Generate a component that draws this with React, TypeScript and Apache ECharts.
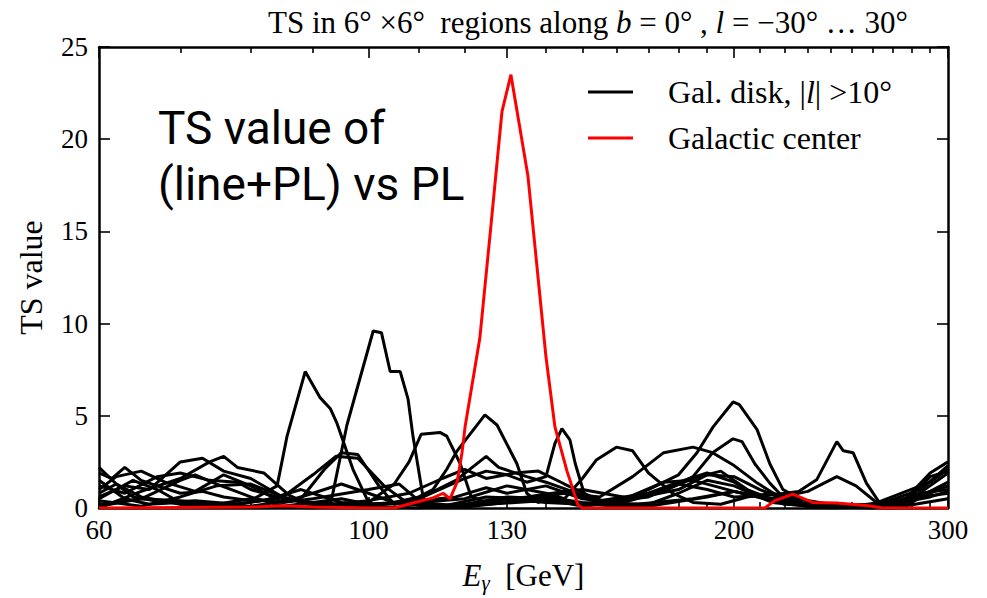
import React, { useEffect, useRef } from "react";
import * as echarts from "echarts";

const xMajorTicks = [60, 100, 130, 200, 300];
const xMinorTicks = [70, 80, 90, 110, 120, 140, 150, 160, 170, 180, 190, 210, 220, 230, 240, 250, 260, 270, 280, 290];

const diskName = "Gal. disk, |l| >10°";
const gcName = "Galactic center";

const galacticCenter: [number, number][] = [
  [60, 0], [80, 0.05], [85, 0.12], [90, 0.05], [100, 0], [105, 0], [110, 0.35], [113, 0.55], [115.2, 0.8], [116.7, 0.5],
  [118.3, 1.4], [119.4, 3], [120.1, 4.4], [123.5, 9.2], [126, 15], [128.8, 21.5], [131, 23.5], [135.3, 18], [140, 8.2],
  [142.4, 4.4], [145.7, 2], [148.8, 0.15], [150, 0], [212, 0], [216, 0.4], [223.6, 0.75], [232, 0.3], [243, 0.27],
  [258, 0.12], [265, 0], [300, 0],
];

const diskA: [number, number][] = [
  [60, 0.8], [62, 1.3], [65, 0.6], [70, 0.2], [75, 0.1], [80, 0.05], [85, 0.1], [90, 0], [93, 0.1], [96, 4.5], [100.9, 9.6],
  [102.5, 9.5], [104.2, 7.4], [106.2, 7.4], [107.8, 5.9], [108.8, 3.9], [110.9, 0.6], [112, 0.1], [120, 0.05], [130, 0.3],
  [140, 0.6], [150, 0.3], [170, 0.2], [180, 0.8], [190, 1.5], [200, 1.2], [215, 0.3], [230, 0.1], [260, 0], [280, 0.3],
  [290, 0.9], [300, 1.4],
];
const diskB: [number, number][] = [
  [60, 1.9], [61.5, 1.6], [63, 2.2], [65, 1.5], [67, 1.2], [70, 0.8], [73, 0.9], [76, 0.6], [80, 0.4], [84.1, 1.2],
  [85.7, 3.9], [88.7, 7.4], [91.2, 6.0], [93, 5.4], [94.2, 4.6], [97.1, 2.1], [99.7, 0.5], [101, 0.1], [110, 0], [125, 0.2],
  [140, 0.4], [160, 0.1], [185, 0.5], [200, 0.9], [220, 0.3], [250, 0.1], [280, 0.5], [300, 1.9],
];
const diskC: [number, number][] = [
  [60, 0.2], [65, 0.5], [70, 1.5], [72, 1.8], [75, 1.3], [80, 0.6], [85, 0.1], [90, 0.3], [95, 0.5], [100, 0.2], [105, 0.3],
  [110, 0.6], [113, 1.0], [116, 2.1], [118.3, 3.1], [124.7, 5.05], [127.6, 4.5], [132.5, 2.4], [135, 0.8], [138, 0.3],
  [145, 0.9], [150, 1.0], [165, 0.5], [180, 1.0], [190, 1.8], [200, 1.7], [210, 1.0], [225, 0.2], [240, 0.1], [260, 0],
  [285, 0.6], [300, 0.8],
];
const diskD: [number, number][] = [
  [60, 1.2], [63, 0.8], [67, 1.7], [70, 1.9], [74, 1.5], [78, 1.4], [80, 1.0], [85, 0.5], [90, 0.3], [95, 0.2], [100, 0.1],
  [110, 0.5], [120, 1.6], [125, 2.0], [130, 1.8], [135, 1.4], [140, 1.7], [142.4, 3.5], [144.3, 4.3], [146.5, 3.7],
  [148, 2.4], [150.5, 0.8], [155, 0.2], [170, 0.1], [190, 0.6], [200, 0.9], [215, 0.4], [230, 0.1], [260, 0.2], [290, 1.4],
  [300, 2.1],
];
const diskE: [number, number][] = [
  [60, 0.4], [65, 0.1], [70, 0.6], [75, 1.2], [80, 1.3], [85, 0.6], [90, 0.1], [100, 0.2], [110, 0.3], [120, 0.5], [130, 1.2],
  [140, 0.8], [145, 0.5], [150, 1.6], [154, 2.6], [160, 3.3], [165, 3.1], [170, 1.9], [174, 1.35], [178, 0.8], [185, 0.3],
  [195, 0.2], [205, 0.6], [215, 0.8], [225, 0.5], [240, 0.2], [260, 0], [285, 0.8], [300, 1.0],
];
const diskF: [number, number][] = [
  [60, 0.6], [63, 1.2], [66, 1.0], [70, 2.5], [73, 2.7], [76, 2.0], [80, 1.6], [85, 0.6], [90, 0.2], [95, 0.05], [100, 0.3],
  [105, 1.3], [108, 2.5], [110.5, 4.0], [114.5, 4.1], [116, 3.9], [119, 2.4], [121.5, 0.6], [125, 0.3], [135, 0.6],
  [145, 0.9], [155, 0.3], [170, 0.6], [185, 1.6], [195, 2.0], [205, 1.0], [220, 0.2], [240, 0.1], [270, 0], [300, 0.5],
];
const diskG: [number, number][] = [
  [60, 1.5], [63, 0.5], [66, 0.2], [70, 0.3], [75, 0.2], [80, 0.5], [85, 0.3], [90, 0.8], [95, 1.3], [100, 0.8], [105, 0.3],
  [112, 0.1], [120, 0.2], [130, 0.6], [140, 0.5], [150, 0.1], [160, 0.3], [170, 1.0], [180, 1.8], [186.4, 3.0], [192.2, 4.4],
  [199.6, 5.75], [202, 5.6], [208.9, 4.25], [214, 2.4], [219.4, 1.0], [225, 0.6], [232, 0.3], [245, 0.1], [270, 0.2],
  [290, 0.6], [300, 0.9],
];
const diskH: [number, number][] = [
  [60, 0.1], [65, 0.5], [70, 0.4], [75, 0.2], [80, 0.1], [88, 0.5], [92, 2.1], [95, 3.0], [98, 2.9], [102, 1.2], [105, 0.2],
  [110, 0.5], [118, 1.5], [125, 2.8], [128, 2.2], [135, 1.7], [140, 1.4], [150, 0.7], [160, 0.2], [175, 0.9], [185, 1.7],
  [192, 3.0], [199.6, 3.75], [203, 3.6], [208, 2.4], [214, 1.35], [219.4, 0.6], [230, 0.2], [250, 0.1], [280, 0.4],
  [300, 1.2],
];
const diskI: [number, number][] = [
  [60, 2.2], [62, 1.3], [64, 0.6], [68, 0.3], [72, 0.4], [78, 0.2], [85, 0.6], [90, 1.8], [94, 2.8], [98, 2.7], [103, 1.2],
  [108, 0.2], [115, 0.1], [125, 0.6], [135, 0.5], [145, 0.8], [155, 0.6], [165, 1.7], [175, 3.0], [185, 3.3], [192, 3.0],
  [200, 2.3], [209, 1.35], [219, 0.5], [230, 0.1], [260, 0.1], [285, 1.0], [300, 2.3],
];
const diskJ: [number, number][] = [
  [60, 0.5], [64, 1.5], [67, 1.0], [70, 0.3], [75, 0.1], [82, 0.4], [88, 1.0], [95, 0.3], [100, 0.2], [110, 0.3], [120, 0.1],
  [130, 0.5], [140, 0.3], [150, 0.2], [165, 0.5], [180, 1.3], [190, 1.0], [200, 0.6], [215, 0.7], [226, 0.9], [234, 1.55],
  [243, 3.6], [246, 3.1], [250.6, 3.0], [257, 1.35], [264, 0.2], [275, 0.3], [290, 1.9], [300, 2.5],
];
const diskK: [number, number][] = [
  [60, 1.0], [62, 1.7], [65, 2.0], [68, 1.4], [72, 0.9], [76, 1.8], [80, 1.2], [85, 0.3], [90, 0.5], [100, 1.0], [106, 1.3],
  [110, 0.4], [118, 0.6], [125, 1.1], [130, 0.8], [140, 1.2], [150, 0.5], [160, 0.3], [175, 1.4], [185, 1.5], [200, 0.9],
  [215, 0.5], [230, 0.9], [243, 1.7], [252, 1.2], [262, 0.3], [275, 0.1], [290, 1.7], [300, 2.0],
];
const diskL: [number, number][] = [
  [60, 0], [65, 0.9], [70, 1.6], [74, 2.5], [76, 2.8], [78, 2.2], [82, 1.9], [86, 0.7], [90, 0.1], [100, 0.4], [108, 0.8],
  [115, 1.6], [120, 2.1], [125, 1.6], [132, 1.9], [138, 2.0], [145, 1.3], [155, 0.4], [170, 0.8], [180, 1.4], [190, 1.9],
  [200, 1.4], [210, 0.6], [225, 0.2], [240, 0], [270, 0.1], [290, 0.9], [300, 1.2],
];

const diskCurves = [diskA, diskB, diskC, diskD, diskE, diskF, diskG, diskH, diskI, diskJ, diskK, diskL];

const SERIF = "'Liberation Serif', 'DejaVu Serif', serif";
const SANS = "Roboto, 'Open Sans', sans-serif";

export default function App() {
  const ref = useRef<HTMLDivElement>(null);
  useEffect(() => {
    const chart = echarts.init(ref.current!, null, { renderer: "svg" });
    const axisLine = { show: true, lineStyle: { color: "#000", width: 2.5 } };
    const hiddenLabel = { show: false };
    const xBase = { type: "log" as const, logBase: 10, min: 60, max: 300, splitLine: { show: false }, minorTick: { show: false } };
    const series: any[] = diskCurves.map((d) => ({
      type: "line",
      name: diskName,
      data: d,
      xAxisIndex: 0,
      yAxisIndex: 0,
      symbol: "none",
      showSymbol: false,
      lineStyle: { color: "#000", width: 3 },
      itemStyle: { color: "#000" },
      clip: true,
    }));
    series.push({
      type: "line",
      name: gcName,
      data: galacticCenter,
      xAxisIndex: 0,
      yAxisIndex: 0,
      symbol: "none",
      showSymbol: false,
      lineStyle: { color: "#ff0000", width: 3 },
      itemStyle: { color: "#ff0000" },
      z: 5,
      clip: true,
    });
    chart.setOption({
      animation: false,
      backgroundColor: "#fff",
      grid: { left: 99, right: 39, top: 47, bottom: 86, containLabel: false },
      title: {
        text: "TS in 6° ×6°  regions along {i|b} = 0° , {i|l} = −30° … 30°",
        left: 583,
        top: 2,
        textAlign: "center",
        textStyle: {
          fontFamily: SERIF,
          fontSize: 31,
          fontWeight: "normal",
          color: "#000",
          rich: { i: { fontFamily: SERIF, fontSize: 31, fontStyle: "italic", color: "#000" } },
        },
      },
      legend: {
        orient: "vertical",
        left: 583,
        top: 71,
        itemWidth: 45,
        itemHeight: 3,
        itemGap: 14,
        icon: "rect",
        selectedMode: false,
        data: [{ name: diskName }, { name: gcName }],
        formatter: (n: string) => (n === diskName ? "Gal. disk, |{i|l}| >10°" : "Galactic center"),
        textStyle: {
          fontFamily: SERIF,
          fontSize: 32,
          lineHeight: 32,
          color: "#000",
          padding: [0, 0, 0, 30],
          rich: { i: { fontFamily: SERIF, fontSize: 32, lineHeight: 32, fontStyle: "italic", color: "#000" } },
        },
      },
      graphic: [
        {
          type: "text",
          left: 158,
          top: 100,
          style: {
            text: "TS value of\n(line+PL) vs PL",
            fontFamily: SANS,
            fontSize: 46,
            lineHeight: 56,
            fill: "#000",
          },
          z: 10,
        },
      ],
      xAxis: [
        {
          ...xBase,
          position: "bottom",
          axisLine,
          axisTick: { show: true, inside: true, length: 11, customValues: xMajorTicks, lineStyle: { color: "#000", width: 1.6 } },
          axisLabel: {
            show: true,
            customValues: xMajorTicks,
            formatter: (v: number) => String(Math.round(v)),
            fontFamily: SERIF,
            fontSize: 27,
            color: "#000",
            margin: 8,
          },
          name: "{e|E}{g|γ}  [GeV]",
          nameLocation: "middle",
          nameGap: 50,
          nameTextStyle: {
            fontFamily: SERIF,
            fontSize: 31,
            color: "#000",
            rich: {
              e: { fontFamily: SERIF, fontSize: 31, fontStyle: "italic", color: "#000" },
              g: { fontFamily: SERIF, fontSize: 21, fontStyle: "italic", color: "#000", padding: [14, 0, 0, 0] },
            },
          },
        },
        {
          ...xBase,
          position: "bottom",
          axisLine: { show: false },
          axisTick: { show: true, inside: true, length: 6, customValues: xMinorTicks, lineStyle: { color: "#000", width: 1.6 } },
          axisLabel: hiddenLabel,
        },
        {
          ...xBase,
          position: "top",
          axisLine,
          axisTick: { show: true, inside: true, length: 11, customValues: xMajorTicks, lineStyle: { color: "#000", width: 1.6 } },
          axisLabel: hiddenLabel,
        },
        {
          ...xBase,
          position: "top",
          axisLine: { show: false },
          axisTick: { show: true, inside: true, length: 6, customValues: xMinorTicks, lineStyle: { color: "#000", width: 1.6 } },
          axisLabel: hiddenLabel,
        },
      ],
      yAxis: [
        {
          type: "value",
          min: 0,
          max: 25,
          interval: 5,
          position: "left",
          axisLine,
          axisTick: { show: true, inside: true, length: 11, lineStyle: { color: "#000", width: 1.6 } },
          axisLabel: { show: true, fontFamily: SERIF, fontSize: 27, color: "#000", margin: 11 },
          splitLine: { show: false },
          name: "TS value",
          nameLocation: "middle",
          nameRotate: 90,
          nameGap: 52,
          nameTextStyle: { fontFamily: SERIF, fontSize: 32, color: "#000" },
        },
        {
          type: "value",
          min: 0,
          max: 25,
          interval: 5,
          position: "right",
          axisLine,
          axisTick: { show: true, inside: true, length: 11, lineStyle: { color: "#000", width: 1.6 } },
          axisLabel: hiddenLabel,
          splitLine: { show: false },
        },
      ],
      series,
    });
    return () => chart.dispose();
  }, []);
  return <div ref={ref} style={{ position: "fixed", left: 0, top: 0, width: 987, height: 598 }} />;
}
